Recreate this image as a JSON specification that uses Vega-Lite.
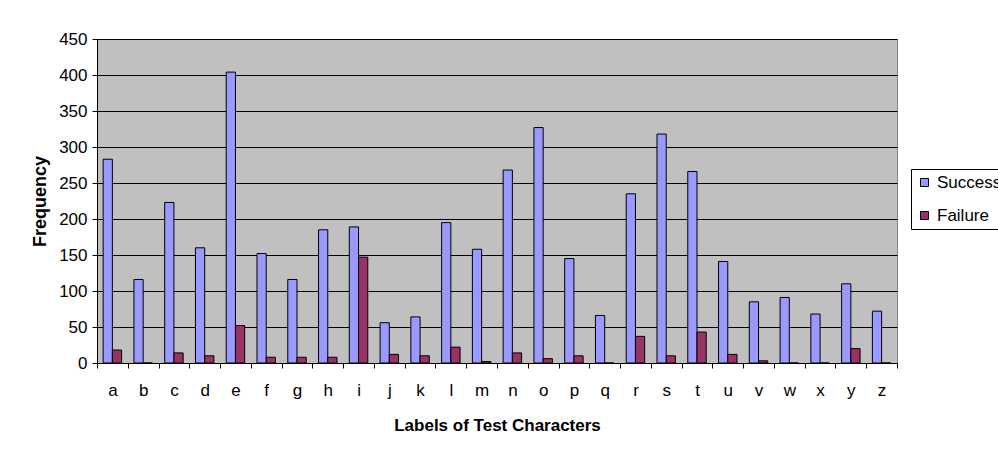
{
  "$schema": "https://vega.github.io/schema/vega-lite/v6.json",
  "autosize": {"type": "none"},
  "padding": {"left": 97, "top": 39, "right": 101, "bottom": 96},
  "width": 800,
  "height": 324,
  "background": "white",
  "config": {
    "font": "Liberation Sans",
    "view": {"fill": "#C0C0C0", "stroke": "#808080", "strokeWidth": 1}
  },
  "data": {
    "values": [
      {"char": "a", "type": "Success", "value": 283}, {"char": "a", "type": "Failure", "value": 18},
      {"char": "b", "type": "Success", "value": 116}, {"char": "b", "type": "Failure", "value": 0},
      {"char": "c", "type": "Success", "value": 223}, {"char": "c", "type": "Failure", "value": 14},
      {"char": "d", "type": "Success", "value": 160}, {"char": "d", "type": "Failure", "value": 10},
      {"char": "e", "type": "Success", "value": 404}, {"char": "e", "type": "Failure", "value": 52},
      {"char": "f", "type": "Success", "value": 152}, {"char": "f", "type": "Failure", "value": 8},
      {"char": "g", "type": "Success", "value": 116}, {"char": "g", "type": "Failure", "value": 8},
      {"char": "h", "type": "Success", "value": 185}, {"char": "h", "type": "Failure", "value": 8},
      {"char": "i", "type": "Success", "value": 189}, {"char": "i", "type": "Failure", "value": 147},
      {"char": "j", "type": "Success", "value": 56}, {"char": "j", "type": "Failure", "value": 12},
      {"char": "k", "type": "Success", "value": 64}, {"char": "k", "type": "Failure", "value": 10},
      {"char": "l", "type": "Success", "value": 195}, {"char": "l", "type": "Failure", "value": 22},
      {"char": "m", "type": "Success", "value": 158}, {"char": "m", "type": "Failure", "value": 2},
      {"char": "n", "type": "Success", "value": 268}, {"char": "n", "type": "Failure", "value": 14},
      {"char": "o", "type": "Success", "value": 327}, {"char": "o", "type": "Failure", "value": 6},
      {"char": "p", "type": "Success", "value": 145}, {"char": "p", "type": "Failure", "value": 10},
      {"char": "q", "type": "Success", "value": 66}, {"char": "q", "type": "Failure", "value": 0},
      {"char": "r", "type": "Success", "value": 235}, {"char": "r", "type": "Failure", "value": 37},
      {"char": "s", "type": "Success", "value": 318}, {"char": "s", "type": "Failure", "value": 10},
      {"char": "t", "type": "Success", "value": 266}, {"char": "t", "type": "Failure", "value": 43},
      {"char": "u", "type": "Success", "value": 141}, {"char": "u", "type": "Failure", "value": 12},
      {"char": "v", "type": "Success", "value": 85}, {"char": "v", "type": "Failure", "value": 3},
      {"char": "w", "type": "Success", "value": 91}, {"char": "w", "type": "Failure", "value": 0},
      {"char": "x", "type": "Success", "value": 68}, {"char": "x", "type": "Failure", "value": 0},
      {"char": "y", "type": "Success", "value": 110}, {"char": "y", "type": "Failure", "value": 20},
      {"char": "z", "type": "Success", "value": 72}, {"char": "z", "type": "Failure", "value": 0}
    ]
  },
  "mark": {"type": "bar", "stroke": "black", "strokeWidth": 1},
  "encoding": {
    "x": {
      "field": "char",
      "type": "nominal",
      "sort": null,
      "scale": {"paddingInner": 0, "paddingOuter": 0},
      "axis": {
        "title": "Labels of Test  Characters",
        "titleFontSize": 17,
        "titleFontWeight": "bold",
        "titleColor": "black",
        "titlePadding": 19,
        "labelAngle": 0,
        "labelFontSize": 17,
        "labelColor": "black",
        "labelPadding": 14,
        "tickBand": "extent",
        "tickSize": 5,
        "tickColor": "black",
        "domainColor": "black",
        "grid": false
      }
    },
    "xOffset": {
      "field": "type",
      "type": "nominal",
      "sort": ["Success", "Failure"],
      "scale": {"paddingInner": 0, "paddingOuter": 0.667}
    },
    "y": {
      "field": "value",
      "type": "quantitative",
      "scale": {"domain": [0, 450], "nice": false},
      "axis": {
        "title": "Frequency",
        "titleFontSize": 18,
        "titleFontWeight": "bold",
        "titleColor": "black",
        "titlePadding": 9,
        "values": [0, 50, 100, 150, 200, 250, 300, 350, 400, 450],
        "labelFontSize": 17,
        "labelColor": "black",
        "labelPadding": 5,
        "tickSize": 5,
        "tickColor": "black",
        "domainColor": "black",
        "grid": true,
        "gridColor": "black",
        "gridOpacity": 1,
        "gridWidth": 1
      }
    },
    "color": {
      "field": "type",
      "type": "nominal",
      "scale": {"domain": ["Success", "Failure"], "range": ["#9999FF", "#993366"]},
      "legend": {
        "title": null,
        "orient": "none",
        "legendX": 814,
        "legendY": 130,
        "strokeColor": "black",
        "fillColor": "white",
        "padding": 5,
        "labelFontSize": 17,
        "labelColor": "black",
        "labelOffset": 4,
        "symbolType": "square",
        "symbolSize": 64,
        "symbolStrokeColor": "black",
        "symbolStrokeWidth": 1,
        "symbolOpacity": 1,
        "rowPadding": 15
      }
    }
  }
}
